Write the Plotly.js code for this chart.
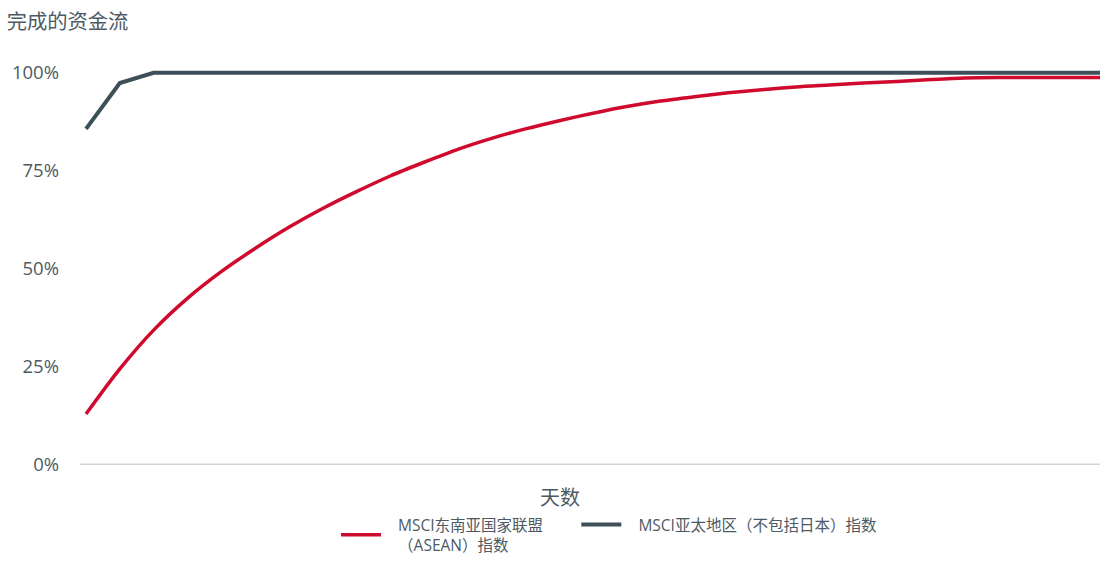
<!DOCTYPE html>
<html>
<head>
<meta charset="utf-8">
<script src="https://cdn.plot.ly/plotly-3.0.1.min.js"></script>
<style>
  body { margin: 0; background: #fff; }
  #graf { width: 1106px; height: 563px; }
</style>
</head>
<body>
<div id="graf"></div>
<script>
// days since start
let days = [];
for (let d = 1; d <= 31; d++) days.push(d);

// share of flows completed (%)
let aseanValues = [13, 24.5, 34.4, 42.5, 49.3, 55.2, 60.6, 65.4, 69.7, 73.7,
    77.2, 80.5, 83.3, 85.7, 87.8, 89.7, 91.4, 92.8, 93.9, 94.9,
    95.7, 96.4, 96.9, 97.4, 97.8, 98.3, 98.7, 98.8, 98.8, 98.8, 98.8];
let apacValues = [85.7, 97.4, 100, 100, 100, 100, 100, 100, 100, 100,
    100, 100, 100, 100, 100, 100, 100, 100, 100, 100,
    100, 100, 100, 100, 100, 100, 100, 100, 100, 100, 100];

let yTicks = [0, 25, 50, 75, 100];

let font = '"Open Sans", "Noto Sans CJK SC", sans-serif';
let textColor = '#4d5a64';
let nb = '\u00a0'; // non-breaking space, pads the legend text

trace1 = {
    x: days,
    y: aseanValues,
    type: 'scatter',
    mode: 'lines',
    line: { color: '#cf0a2c', width: 3.5, shape: 'spline', smoothing: 0.8 },
    name: nb.repeat(3) + 'MSCI东南亚国家联盟' + nb.repeat(7) + '<br>' + nb.repeat(3) + '（ASEAN）指数'
};

trace2 = {
    x: days,
    y: apacValues,
    type: 'scatter',
    mode: 'lines',
    line: { color: '#3e4f5a', width: 4 },
    name: nb.repeat(3) + 'MSCI亚太地区（不包括日本）指数'
};

let layout = {
    width: 1106,
    height: 563,
    margin: { l: 80, r: 6, t: 65, b: 98 },
    paper_bgcolor: '#fff',
    plot_bgcolor: '#fff',
    font: { family: font, color: textColor, size: 16 },
    title: {
        text: '完成的资金流',
        font: { size: 20.3, color: textColor },
        xref: 'container', yref: 'container',
        x: 0.006, xanchor: 'left',
        y: 1 - 22 / 563, yanchor: 'middle'
    },
    showlegend: true,
    legend: {
        orientation: 'h',
        xref: 'container', yref: 'container',
        x: 336 / 1106, xanchor: 'left',
        y: 1 - 535 / 563, yanchor: 'middle',
        valign: 'middle',
        itemwidth: 40,
        font: { size: 15.5, color: textColor },
        traceorder: 'normal'
    },
    xaxis: {
        range: [0.822, 31],
        showgrid: false,
        zeroline: false,
        showline: false,
        showticklabels: false,
        ticks: ''
    },
    yaxis: {
        range: [0, 1.02 * 100],
        tickvals: yTicks,
        ticktext: yTicks.map(v => v + '%'),
        showgrid: false,
        zeroline: false,
        showline: false,
        ticks: '',
        ticklabelstandoff: 20,
        tickfont: { size: 18.5, color: textColor }
    },
    shapes: [{
        type: 'line', xref: 'paper', yref: 'y',
        x0: 0, x1: 1, y0: 0, y1: 0,
        line: { color: '#cdd5da', width: 2.8 },
        layer: 'below'
    }],
    annotations: [{
        text: '天数',
        xref: 'paper', yref: 'paper',
        x: (560 - 80) / 1020, y: -32 / 400,
        xanchor: 'center', yanchor: 'middle',
        showarrow: false,
        font: { size: 20, color: textColor }
    }]
};

graf = document.getElementById('graf');
Plotly.newPlot(graf, [trace1, trace2], layout, { staticPlot: true });
</script>
</body>
</html>
